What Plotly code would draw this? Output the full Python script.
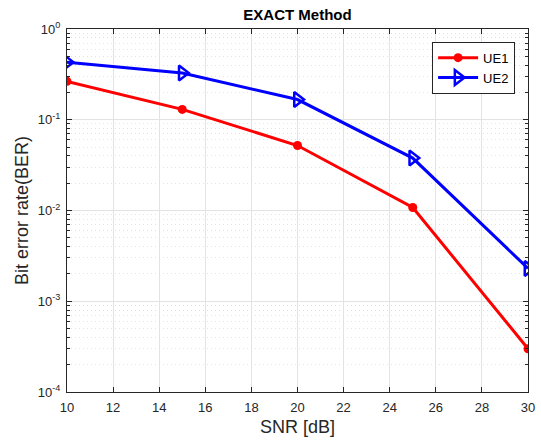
import plotly.graph_objects as go

snr = [10, 15, 20, 25, 30]
ue1 = [0.265, 0.130, 0.052, 0.0108, 0.00030]
ue2 = [0.43, 0.327, 0.167, 0.0378, 0.0023]

ytick_vals = [1e-4, 1e-3, 1e-2, 1e-1, 1]
ytick_text = ["10<sup>-4</sup>", "10<sup>-3</sup>", "10<sup>-2</sup>", "10<sup>-1</sup>", "10<sup>0</sup>"]
xtick_vals = [10, 12, 14, 16, 18, 20, 22, 24, 26, 28, 30]

minor_vals = [m * 10 ** e for e in range(-4, 0) for m in range(2, 10)]

font = "Liberation Sans, Arial, Helvetica, sans-serif"

fig = go.Figure()
fig.add_trace(go.Scatter(
    x=snr, y=ue1, name="UE1", mode="lines+markers",
    line=dict(color="#ff0000", width=3),
    marker=dict(symbol="circle", size=9, color="#ff0000"),
))
fig.add_trace(go.Scatter(
    x=snr, y=ue2, name="UE2", mode="lines+markers",
    line=dict(color="#0000ff", width=3),
    marker=dict(symbol="triangle-right-open", size=13, color="#0000ff", line=dict(width=2.5, color="#0000ff")),
))

fig.update_layout(
    width=541, height=444,
    margin=dict(l=67, r=13, t=29, b=52, autoexpand=False),
    paper_bgcolor="white", plot_bgcolor="white",
    font=dict(family=font, color="#262626", size=13),
    title=dict(text="<b>EXACT Method</b>", x=0.5, xanchor="center", xref="paper",
               y=1 - 15 / 444, yanchor="middle", yref="container",
               font=dict(size=15, color="black", family=font)),
    showlegend=True,
    legend=dict(x=0.972, y=0.965, xanchor="right", yanchor="top",
                bgcolor="white", bordercolor="#262626", borderwidth=1,
                font=dict(size=13, color="black"), tracegroupgap=0,
                itemwidth=40),
)
fig.update_xaxes(
    range=[10, 30], tickvals=xtick_vals, ticks="inside", ticklen=5,
    tickcolor="#262626", linecolor="#262626", linewidth=1, mirror="allticks",
    showline=True, showgrid=True, gridcolor="#e3e3e3", gridwidth=1, zeroline=False,
    title=dict(text="SNR [dB]", font=dict(size=18, color="#262626"), standoff=6),
    tickfont=dict(size=13), ticklabelstandoff=3,
)
fig.update_yaxes(
    type="log", range=[-4, 0], tickvals=ytick_vals, ticktext=ytick_text,
    ticks="inside", ticklen=5, tickcolor="#262626", linecolor="#262626", linewidth=1,
    mirror="allticks", showline=True, showgrid=True, gridcolor="#e3e3e3", gridwidth=1,
    zeroline=False,
    minor=dict(tickmode="array", tickvals=minor_vals, ticks="inside", ticklen=3,
               tickcolor="#262626", showgrid=True, gridcolor="#e2e2e2", griddash="1px,3px", gridwidth=1),
    title=dict(text="Bit error rate(BER)", font=dict(size=18, color="#262626"), standoff=4),
    tickfont=dict(size=13), ticklabelstandoff=3,
)

fig.write_html("out.html")
